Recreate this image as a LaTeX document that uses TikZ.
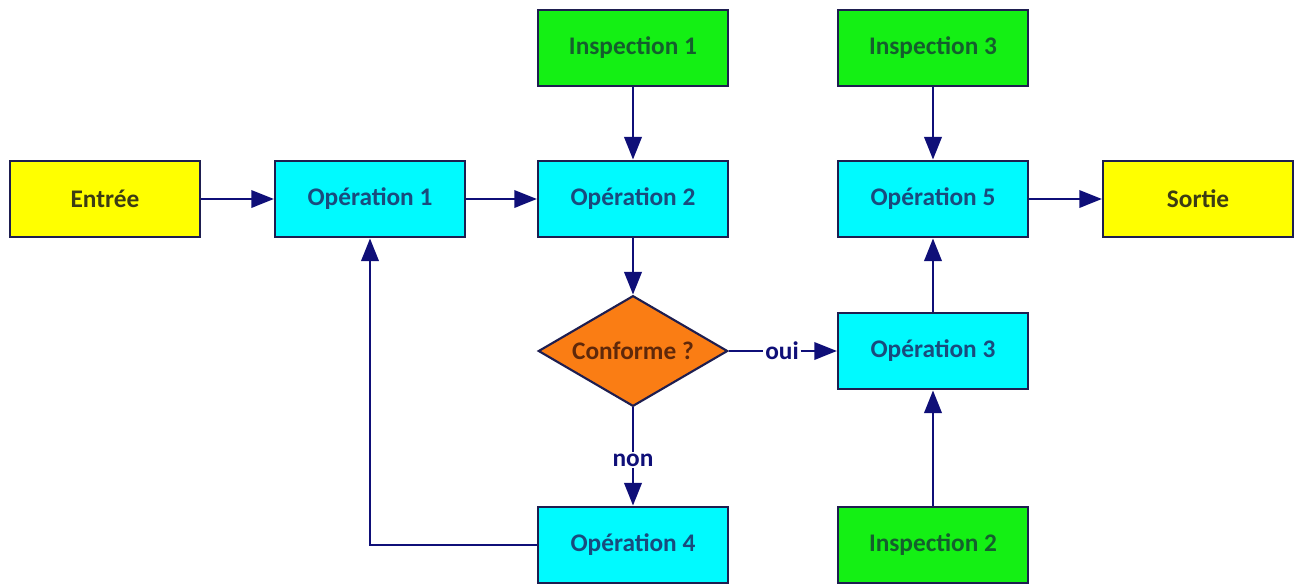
\documentclass[tikz,border=0pt]{standalone}
\usepackage{fontspec}
\setmainfont{Carlito}
\usetikzlibrary{shapes.geometric,arrows.meta}

\definecolor{boxline}{RGB}{30,30,80}
\definecolor{flow}{RGB}{15,15,120}
\definecolor{txtio}{RGB}{60,60,20}
\definecolor{txtinsp}{RGB}{20,95,45}
\definecolor{txtop}{RGB}{25,75,125}
\definecolor{txttest}{RGB}{95,40,10}
\definecolor{fillio}{RGB}{255,255,0}
\definecolor{fillop}{RGB}{0,250,255}
\definecolor{fillinsp}{RGB}{20,240,20}
\definecolor{filltest}{RGB}{250,125,20}

\tikzset{every picture/.style={line width=0.75pt},
  box/.style={draw=boxline, line width=1.6pt, minimum width=142.5pt, minimum height=57.5pt, inner sep=0pt, font=\fontsize{19}{21}\selectfont\bfseries},
  iobox/.style={box, fill=fillio, text=txtio},
  inspbox/.style={box, fill=fillinsp, text=txtinsp},
  opbox/.style={box, fill=fillop, text=txtop},
  testbox/.style={diamond, aspect=1.7, draw=boxline, line width=1.6pt, fill=filltest, text=txttest, minimum width=142pt, minimum height=83pt, inner sep=0pt, font=\fontsize{19}{21}\selectfont\bfseries},
  flowline/.style={draw=flow, line width=2pt},
  flowarrow/.style={flowline, -{Triangle[length=17pt,width=13pt]}},
  answer/.style={text=flow, fill=white, inner sep=1pt, font=\fontsize{19}{21}\selectfont\bfseries}
}

\begin{document}
\begin{tikzpicture}[x=0.75pt,y=0.75pt,yscale=-1,xscale=1]
\useasboundingbox (0,0) rectangle (1297,583);

% Boxes
\node [iobox] (entree) at (105,199) {Entrée};
\node [opbox] (op1) at (370,199) {Opération 1};
\node [opbox] (op2) at (633,199) {Opération 2};
\node [inspbox] (insp1) at (633,48) {Inspection 1};
\node [inspbox] (insp3) at (933,48) {Inspection 3};
\node [opbox] (op5) at (933,199) {Opération 5};
\node [iobox] (sortie) at (1198,199) {Sortie};
\node [testbox] (conf) at (633,351) {Conforme ?};
\node [opbox] (op3) at (933,351) {Opération 3};
\node [opbox] (op4) at (633,545) {Opération 4};
\node [inspbox] (insp2) at (933,545) {Inspection 2};

% Labels
\node [answer] (oui) at (782,351) {oui};
\node [answer] (non) at (633,460) {non};

% Connectors
\draw [flowarrow] (entree) -- (op1);
\draw [flowarrow] (op1) -- (op2);
\draw [flowarrow] (insp1) -- (op2);
\draw [flowarrow] (op2) -- (conf);
\draw [flowline] (conf) -- (oui);
\draw [flowarrow] (oui) -- (op3);
\draw [flowline] (conf) -- (non);
\draw [flowarrow] (non) -- (op4);
\draw [flowarrow] (op4.west) -| (op1.south);
\draw [flowarrow] (insp2) -- (op3);
\draw [flowarrow] (op3) -- (op5);
\draw [flowarrow] (insp3) -- (op5);
\draw [flowarrow] (op5) -- (sortie);

\end{tikzpicture}
\end{document}
